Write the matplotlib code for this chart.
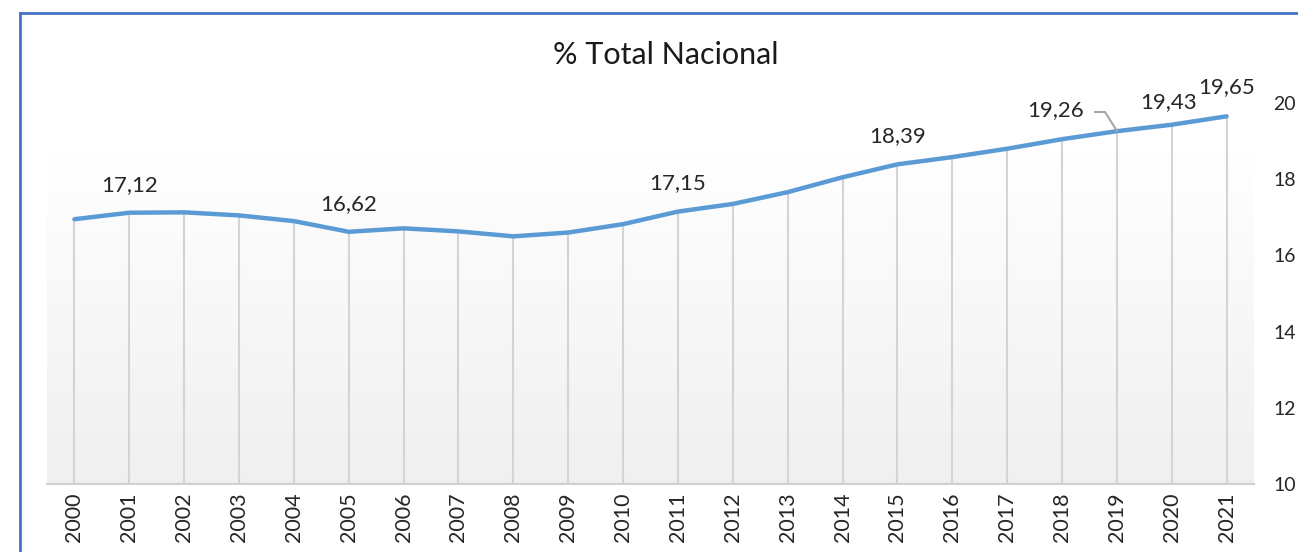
import matplotlib.pyplot as plt
import numpy as np
from matplotlib.lines import Line2D

years = [str(y) for y in range(2000, 2022)]
values = [16.95, 17.12, 17.13, 17.05, 16.90, 16.62, 16.71, 16.63, 16.50, 16.60,
          16.82, 17.15, 17.35, 17.66, 18.05, 18.39, 18.58, 18.80, 19.05, 19.26,
          19.43, 19.65]
# which points carry a data label, and where the label sits (offset in points)
label_idx = [1, 5, 11, 15, 19, 20, 21]
label_offsets = {1: (0, 13), 5: (0, 13), 11: (0, 13), 15: (0, 13),
                 19: (-44, 8), 20: (-2, 9), 21: (0, 14)}
y_ticks = [10, 12, 14, 16, 18, 20]

plt.rcParams['font.family'] = ['Lato', 'DejaVu Sans']

fig = plt.figure(figsize=(12.98, 5.52), dpi=100)
W, H = 1298, 552
ax = fig.add_axes([47 / W, 1 - 484 / H, (1254 - 47) / W, (484 - 103) / H])

x = np.arange(len(years))
ax.set_xlim(-0.5, len(years) - 0.5)
ax.set_ylim(10, 20)

# gradient plot-area fill (white at top to light grey at bottom)
grad = np.linspace(1.0, 0.94, 256).reshape(-1, 1)
ax.imshow(np.dstack([grad, grad, grad]), aspect='auto',
          extent=(-0.5, len(years) - 0.5, 10, 18.76), zorder=0)

# drop lines
ax.vlines(x, 10, values, colors='#d4d4d4', linewidth=1.5, zorder=1)
ax.plot(x, values, color='#5b9bd5', linewidth=3.2, solid_capstyle='round', zorder=3)

for i in label_idx:
    dx, dy = label_offsets[i]
    ax.annotate(f"{values[i]:.2f}".replace('.', ','), (x[i], values[i]),
                xytext=(dx, dy), textcoords='offset points', ha='center',
                va='bottom', fontsize=16, color='#262626', annotation_clip=False)

# leader line for 2019 label
fig.add_artist(Line2D([1095 / W, 1105 / W, 1117 / W],
                      [1 - 112 / H, 1 - 112 / H, 1 - 131 / H],
                      color='#a6a6a6', linewidth=1.5))

ax.set_xticks(x)
ax.set_xticklabels(years, rotation=90, fontsize=15.5, color='#262626')
ax.tick_params(axis='x', length=0, pad=6)

ax.yaxis.tick_right()
ax.set_yticks(y_ticks)
ax.set_yticklabels([str(t) for t in y_ticks], fontsize=14, color='#262626')
ax.tick_params(axis='y', length=0, pad=14)

for s in ['top', 'left', 'right']:
    ax.spines[s].set_visible(False)
ax.spines['bottom'].set_color('#d0d0d0')
ax.spines['bottom'].set_linewidth(1.5)

fig.text(666 / W, 1 - 55 / H, '% Total Nacional', ha='center', va='center',
         fontsize=22, color='#1a1a1a')

# blue chart border, top and left edges only visible
fig.add_artist(Line2D([20 / W, 1.0], [1 - 13 / H, 1 - 13 / H],
                      color='#4472c4', linewidth=2))
fig.add_artist(Line2D([20 / W, 20 / W], [0, 1 - 13 / H],
                      color='#4472c4', linewidth=2))

fig.savefig('out.png', dpi=100)
